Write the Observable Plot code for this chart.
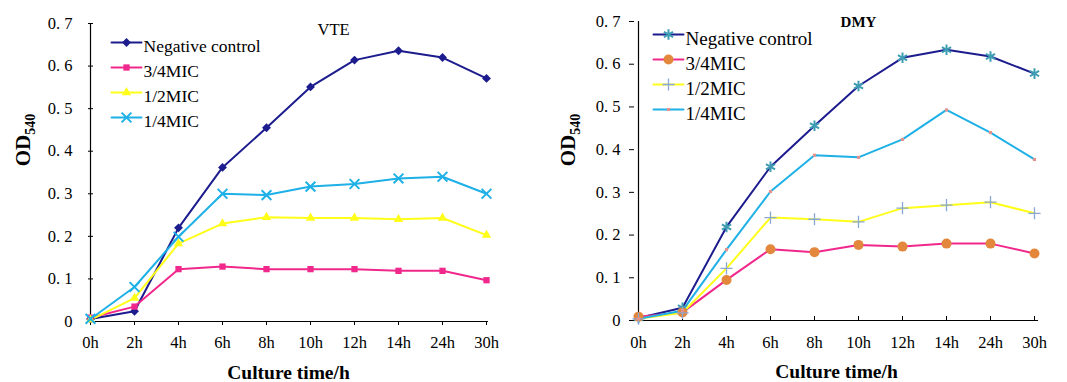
<!DOCTYPE html>
<html>
<head>
<meta charset="utf-8">
<script src="https://cdn.jsdelivr.net/npm/d3@7"></script>
<script src="https://cdn.jsdelivr.net/npm/@observablehq/plot@0.6"></script>
<style>
  html, body { margin: 0; padding: 0; background: #fff; }
  #wrap { display: flex; width: 1067px; height: 382px; overflow: hidden; }
</style>
</head>
<body>
<div id="wrap"></div>
<script>
// ---- data ----
const times = ["0h", "2h", "4h", "6h", "8h", "10h", "12h", "14h", "24h", "30h"];
const seriesNames = ["Negative control", "3/4MIC", "1/2MIC", "1/4MIC"];
const yTicks = [0, 0.1, 0.2, 0.3, 0.4, 0.5, 0.6, 0.7];

const vteNegative = [0.006, 0.024, 0.220, 0.362, 0.455, 0.551, 0.614, 0.636, 0.620, 0.571];
const vte34MIC    = [0.009, 0.035, 0.123, 0.129, 0.123, 0.123, 0.123, 0.119, 0.119, 0.097];
const vte12MIC    = [0.004, 0.055, 0.183, 0.230, 0.245, 0.243, 0.243, 0.240, 0.243, 0.203];
const vte14MIC    = [0.006, 0.081, 0.199, 0.300, 0.297, 0.317, 0.323, 0.336, 0.340, 0.300];

const dmyNegative = [0.006, 0.030, 0.219, 0.360, 0.456, 0.549, 0.615, 0.634, 0.618, 0.578];
const dmy34MIC    = [0.009, 0.019, 0.095, 0.167, 0.160, 0.177, 0.173, 0.180, 0.180, 0.157];
const dmy12MIC    = [0.004, 0.018, 0.122, 0.241, 0.237, 0.231, 0.263, 0.270, 0.277, 0.251];
const dmy14MIC    = [0.004, 0.023, 0.166, 0.302, 0.387, 0.382, 0.424, 0.493, 0.440, 0.377];

const lineColors = ["#1c1c8e", "#f0288c", "#ffff1a", "#1eb0e6"];

function rowsFrom(arrs) {
  const rows = [];
  arrs.forEach((vals, si) => vals.forEach((v, ti) => rows.push({series: seriesNames[si], time: times[ti], value: v})));
  return rows;
}

const segShape = {draw(context, l) { context.moveTo(0, 0); context.lineTo(0, -l); }};

function panel(cfg) {
  const rows = rowsFrom(cfg.data);
  const marks = [
    Plot.ruleX([times[0]], {stroke: "#000", strokeWidth: 1.2}),
    Plot.ruleY([0], {stroke: "#000", strokeWidth: 1.2}),
    Plot.axisY({ticks: yTicks, tickSize: cfg.yTickSize, tickPadding: cfg.yTickPadding,
      tickFormat: d => d === 0 ? "0" : d.toFixed(1).replace(".", ". "), label: null, fontSize: 16.5}),
    Plot.axisX({tickSize: cfg.xTickSize, tickPadding: cfg.xTickPadding, label: null, fontSize: 16.5}),
    Plot.line(rows, {x: "time", y: "value", z: "series", stroke: "series", strokeWidth: 2})
  ];
  seriesNames.forEach((name, i) => {
    const m = cfg.markers[i];
    marks.push(Plot.dot(rows.filter(r => r.series === name), {x: "time", y: "value", symbol: m.symbol, r: m.r,
      fill: m.fill || "none", stroke: m.stroke || "none", strokeWidth: m.sw || 1}));
  });
  // legend
  seriesNames.forEach((name, i) => {
    const m = cfg.markers[i];
    const dy = cfg.legendDy + cfg.legendStep * i;
    marks.push(Plot.vector([name], {frameAnchor: "top-left", dx: cfg.legendDx, dy, length: 30, rotate: 90,
      anchor: "middle", shape: segShape, stroke: lineColors[i], strokeWidth: 2}));
    marks.push(Plot.dot([name], {frameAnchor: "top-left", dx: cfg.legendDx, dy, symbol: m.symbol, r: m.r,
      fill: m.fill || "none", stroke: m.stroke || "none", strokeWidth: m.sw || 1}));
    marks.push(Plot.text([name], {frameAnchor: "top-left", dx: cfg.legendDx + 17, dy: dy - 3, text: d => d,
      textAnchor: "start", fontSize: cfg.legendFont, fill: "#000"}));
  });
  marks.push(Plot.text([cfg.title], {frameAnchor: "top", dx: cfg.titleDx, dy: cfg.titleDy, text: d => d,
    fontSize: cfg.titleSize, fill: "#000", fontWeight: cfg.titleWeight}));
  marks.push(Plot.text(["Culture time/h"], {frameAnchor: "bottom", dy: 57, text: d => d,
    fontSize: 19.5, fontWeight: "bold", fill: "#000"}));

  const svg = Plot.plot({
    width: cfg.width, height: 382,
    marginLeft: cfg.ml, marginRight: cfg.mr, marginTop: cfg.mt, marginBottom: cfg.mb,
    style: {fontFamily: "'Liberation Serif', 'Times New Roman', serif", fontSize: "16px", color: "#000", background: "#fff", overflow: "visible"},
    x: {type: "point", domain: times, padding: 0},
    y: {domain: [0, 0.7]},
    color: {domain: seriesNames, range: lineColors},
    marks
  });
  // y-axis label with subscript
  const t = d3.select(svg).append("text")
    .attr("transform", `translate(${cfg.ylabX},${cfg.ylabY}) rotate(-90)`)
    .attr("text-anchor", "middle")
    .attr("font-family", "'Liberation Serif', serif")
    .attr("font-weight", "bold")
    .attr("font-size", 21)
    .attr("fill", "#000");
  t.append("tspan").text("OD");
  t.append("tspan").attr("font-size", 14).attr("dy", 5).text("540");
  return svg;
}

const wrap = document.getElementById("wrap");
wrap.appendChild(panel({
  width: 533, ml: 88, mr: 45, mt: 23, mb: 61,
  data: [vteNegative, vte34MIC, vte12MIC, vte14MIC],
  title: "VTE", titleDx: 45, titleDy: 0, titleWeight: "normal", titleSize: 16.5,
  yTickSize: -5, yTickPadding: 21, xTickSize: 4, xTickPadding: 11,
  legendDx: 38, legendDy: 19, legendStep: 25, legendFont: 17.5,
  ylabX: 30, ylabY: 140,
  markers: [
    {symbol: "diamond2", r: 4, fill: "#1c1c8e"},
    {symbol: "square2", r: 4, fill: "#f0288c"},
    {symbol: "triangle2", r: 4.5, fill: "#ffff1a"},
    {symbol: "times", r: 4.5, stroke: "#1eb0e6", sw: 2}
  ]
}));
wrap.appendChild(panel({
  width: 534, ml: 101, mr: 29, mt: 21, mb: 62,
  data: [dmyNegative, dmy34MIC, dmy12MIC, dmy14MIC],
  title: "DMY", titleDx: 22, titleDy: -5, titleWeight: "bold", titleSize: 15,
  yTickSize: 5, yTickPadding: 9, xTickSize: -4, xTickPadding: 20,
  legendDx: 34, legendDy: 13, legendStep: 25, legendFont: 19,
  ylabX: 42, ylabY: 140,
  markers: [
    {symbol: "asterisk", r: 5, stroke: "#3f9db3", sw: 2},
    {symbol: "circle", r: 5, fill: "#e2873c"},
    {symbol: "plus", r: 4, stroke: "#8aa6d6", sw: 1.3},
    {symbol: "square2", r: 2, fill: "#e4928e"}
  ]
}));
</script>
</body>
</html>
